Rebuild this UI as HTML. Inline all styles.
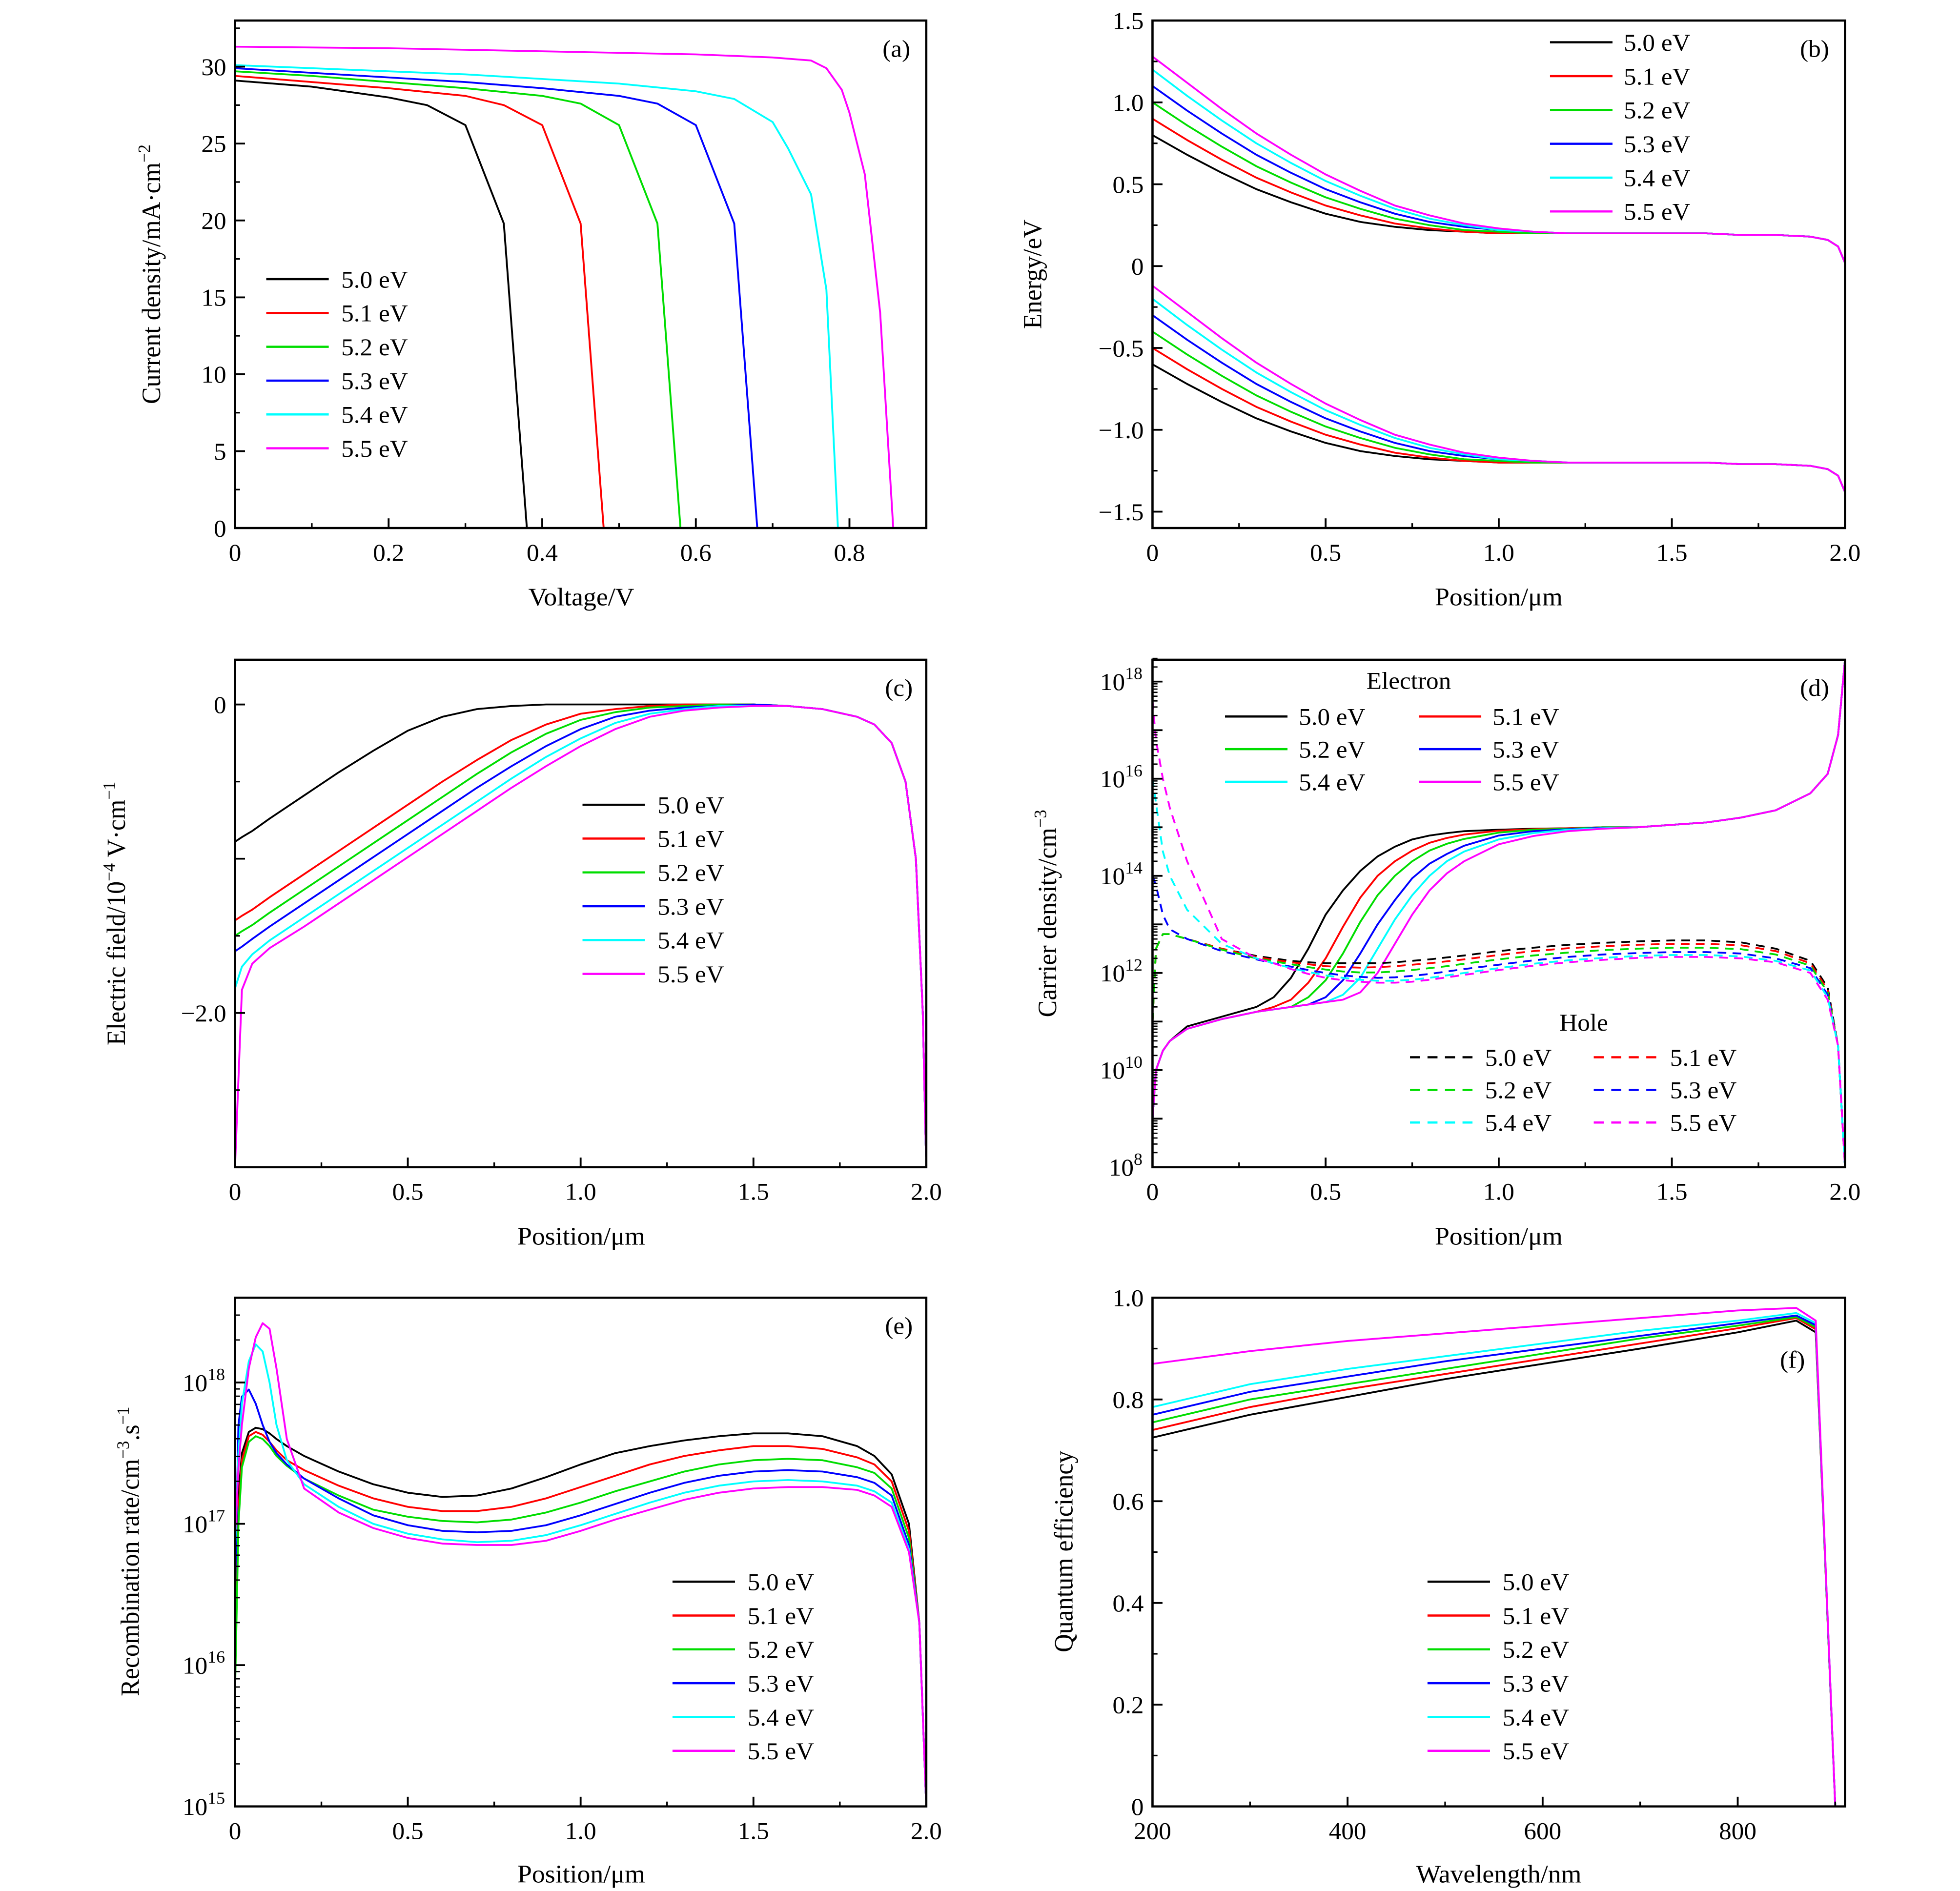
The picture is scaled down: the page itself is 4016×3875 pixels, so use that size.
<!DOCTYPE html>
<html><head><meta charset="utf-8"><style>
html,body{margin:0;padding:0;background:#fff;}
svg{display:block;}
text{font-family:"Liberation Serif",serif;fill:#000;}
</style></head>
<body>
<svg id="fig" xmlns="http://www.w3.org/2000/svg" width="4016" height="3875" viewBox="0 0 1568 1565" preserveAspectRatio="none"></svg>
<script>
// ---------- shared ----------
const colors = ['#000000','#ff0000','#00dd00','#0000ff','#00ffff','#ff00ff'];
const seriesLabels = ['5.0 eV','5.1 eV','5.2 eV','5.3 eV','5.4 eV','5.5 eV'];

// ---------- (a) J-V ----------
const aV0 = [0,0.1,0.2,0.25,0.3,0.35,0.38];
const aJ0 = [29.1,28.7,28.0,27.5,26.2,19.8,0];
const aV1 = [0,0.1,0.2,0.3,0.35,0.4,0.45,0.48];
const aJ1 = [29.4,29.0,28.6,28.1,27.5,26.2,19.8,0];
const aV2 = [0,0.1,0.2,0.3,0.4,0.45,0.5,0.55,0.58];
const aJ2 = [29.7,29.4,29.0,28.6,28.1,27.6,26.2,19.8,0];
const aV3 = [0,0.1,0.2,0.3,0.4,0.5,0.55,0.6,0.65,0.68];
const aJ3 = [29.9,29.6,29.3,29.0,28.6,28.1,27.6,26.2,19.8,0];
const aV4 = [0,0.1,0.2,0.3,0.4,0.5,0.6,0.65,0.7,0.72,0.75,0.77,0.785];
const aJ4 = [30.1,29.9,29.7,29.5,29.2,28.9,28.4,27.9,26.4,24.7,21.7,15.5,0];
const aV5 = [0,0.2,0.4,0.6,0.7,0.75,0.77,0.79,0.8,0.82,0.84,0.857];
const aJ5 = [31.3,31.2,31.0,30.8,30.6,30.4,29.9,28.5,27.0,23.0,14.0,0];

// ---------- (b) band diagram ----------
const bX = [0,0.1,0.2,0.3,0.4,0.5,0.6,0.7,0.8,0.9,1.0,1.1,1.2,1.3,1.4,1.5,1.6,1.7,1.8,1.9,1.95,1.98,2.0];
const bEc0 = [0.80,0.68,0.57,0.47,0.39,0.32,0.27,0.24,0.22,0.21,0.20,0.20,0.20,0.20,0.20,0.20,0.20,0.19,0.19,0.18,0.16,0.12,0.02];
const bEc1 = [0.90,0.77,0.65,0.54,0.45,0.37,0.31,0.26,0.23,0.21,0.20,0.20,0.20,0.20,0.20,0.20,0.20,0.19,0.19,0.18,0.16,0.12,0.02];
const bEc2 = [1.00,0.86,0.73,0.61,0.51,0.42,0.35,0.29,0.25,0.22,0.21,0.20,0.20,0.20,0.20,0.20,0.20,0.19,0.19,0.18,0.16,0.12,0.02];
const bEc3 = [1.10,0.95,0.81,0.68,0.57,0.47,0.39,0.32,0.27,0.24,0.22,0.21,0.20,0.20,0.20,0.20,0.20,0.19,0.19,0.18,0.16,0.12,0.02];
const bEc4 = [1.20,1.04,0.89,0.75,0.63,0.52,0.43,0.35,0.29,0.25,0.22,0.21,0.20,0.20,0.20,0.20,0.20,0.19,0.19,0.18,0.16,0.12,0.02];
const bEc5 = [1.28,1.12,0.96,0.81,0.68,0.56,0.46,0.37,0.31,0.26,0.23,0.21,0.20,0.20,0.20,0.20,0.20,0.19,0.19,0.18,0.16,0.12,0.02];
const bEv0 = [-0.60,-0.72,-0.83,-0.93,-1.01,-1.08,-1.13,-1.16,-1.18,-1.19,-1.20,-1.20,-1.20,-1.20,-1.20,-1.20,-1.20,-1.21,-1.21,-1.22,-1.24,-1.28,-1.38];
const bEv1 = [-0.50,-0.63,-0.75,-0.86,-0.95,-1.03,-1.09,-1.14,-1.17,-1.19,-1.20,-1.20,-1.20,-1.20,-1.20,-1.20,-1.20,-1.21,-1.21,-1.22,-1.24,-1.28,-1.38];
const bEv2 = [-0.40,-0.54,-0.67,-0.79,-0.89,-0.98,-1.05,-1.11,-1.15,-1.18,-1.19,-1.20,-1.20,-1.20,-1.20,-1.20,-1.20,-1.21,-1.21,-1.22,-1.24,-1.28,-1.38];
const bEv3 = [-0.30,-0.45,-0.59,-0.72,-0.83,-0.93,-1.01,-1.08,-1.13,-1.16,-1.18,-1.19,-1.20,-1.20,-1.20,-1.20,-1.20,-1.21,-1.21,-1.22,-1.24,-1.28,-1.38];
const bEv4 = [-0.20,-0.36,-0.51,-0.65,-0.77,-0.88,-0.97,-1.05,-1.11,-1.15,-1.18,-1.19,-1.20,-1.20,-1.20,-1.20,-1.20,-1.21,-1.21,-1.22,-1.24,-1.28,-1.38];
const bEv5 = [-0.12,-0.28,-0.44,-0.59,-0.72,-0.84,-0.94,-1.03,-1.09,-1.14,-1.17,-1.19,-1.20,-1.20,-1.20,-1.20,-1.20,-1.21,-1.21,-1.22,-1.24,-1.28,-1.38];

// ---------- (c) electric field ----------
const cX = [0,0.02,0.05,0.1,0.2,0.3,0.4,0.5,0.6,0.7,0.8,0.9,1.0,1.1,1.2,1.3,1.4,1.5,1.6,1.7,1.8,1.85,1.9,1.94,1.97,1.99,2.0];
const cE0 = [-0.89,-0.86,-0.82,-0.74,-0.59,-0.44,-0.30,-0.17,-0.08,-0.03,-0.01,0,0,0,0,0,0,0,-0.01,-0.03,-0.08,-0.13,-0.25,-0.5,-1.0,-2.0,-3.0];
const cE1 = [-1.40,-1.37,-1.33,-1.25,-1.10,-0.95,-0.80,-0.65,-0.50,-0.36,-0.23,-0.13,-0.06,-0.03,-0.01,0,0,0,-0.01,-0.03,-0.08,-0.13,-0.25,-0.5,-1.0,-2.0,-3.0];
const cE2 = [-1.50,-1.47,-1.43,-1.35,-1.20,-1.05,-0.90,-0.75,-0.60,-0.45,-0.31,-0.19,-0.10,-0.05,-0.02,-0.01,0,0,-0.01,-0.03,-0.08,-0.13,-0.25,-0.5,-1.0,-2.0,-3.0];
const cE3 = [-1.60,-1.57,-1.52,-1.44,-1.29,-1.14,-0.99,-0.84,-0.69,-0.54,-0.40,-0.27,-0.16,-0.08,-0.04,-0.02,-0.01,0,-0.01,-0.03,-0.08,-0.13,-0.25,-0.5,-1.0,-2.0,-3.0];
const cE4 = [-1.84,-1.70,-1.62,-1.53,-1.38,-1.23,-1.08,-0.93,-0.78,-0.63,-0.48,-0.34,-0.22,-0.12,-0.06,-0.03,-0.01,-0.01,-0.01,-0.03,-0.08,-0.13,-0.25,-0.5,-1.0,-2.0,-3.0];
const cE5 = [-3.0,-1.85,-1.68,-1.58,-1.44,-1.29,-1.14,-0.99,-0.84,-0.69,-0.54,-0.40,-0.27,-0.16,-0.08,-0.04,-0.02,-0.01,-0.01,-0.03,-0.08,-0.13,-0.25,-0.5,-1.0,-2.0,-3.0];

// ---------- (d) carrier density (log10) ----------
const dX = [0,0.01,0.03,0.05,0.1,0.2,0.3,0.35,0.4,0.45,0.5,0.55,0.6,0.65,0.7,0.75,0.8,0.85,0.9,1.0,1.1,1.2,1.3,1.4,1.5,1.6,1.7,1.8,1.9,1.95,1.98,2.0];
const dN0 = [9.0,10.0,10.4,10.6,10.9,11.1,11.3,11.5,11.9,12.5,13.2,13.7,14.1,14.4,14.6,14.75,14.83,14.88,14.92,14.95,14.97,14.98,15.0,15.0,15.05,15.1,15.2,15.35,15.7,16.1,16.9,18.45];
const dN1 = [9.0,10.0,10.4,10.6,10.85,11.05,11.2,11.3,11.45,11.8,12.3,12.95,13.55,14.0,14.3,14.52,14.68,14.78,14.85,14.93,14.96,14.98,15.0,15.0,15.05,15.1,15.2,15.35,15.7,16.1,16.9,18.45];
const dN2 = [9.0,10.0,10.4,10.6,10.85,11.05,11.2,11.25,11.3,11.5,11.85,12.4,13.05,13.6,14.0,14.3,14.52,14.66,14.76,14.89,14.95,14.97,15.0,15.0,15.05,15.1,15.2,15.35,15.7,16.1,16.9,18.45];
const dN3 = [9.0,10.0,10.4,10.6,10.85,11.05,11.2,11.25,11.3,11.35,11.5,11.85,12.4,13.0,13.5,13.95,14.25,14.45,14.62,14.83,14.92,14.96,14.99,15.0,15.05,15.1,15.2,15.35,15.7,16.1,16.9,18.45];
const dN4 = [9.0,10.0,10.4,10.6,10.85,11.05,11.2,11.25,11.3,11.35,11.4,11.55,11.9,12.5,13.1,13.6,14.0,14.3,14.5,14.75,14.88,14.95,14.98,15.0,15.05,15.1,15.2,15.35,15.7,16.1,16.9,18.45];
const dN5 = [9.0,10.0,10.4,10.6,10.85,11.05,11.2,11.25,11.3,11.35,11.4,11.45,11.6,12.0,12.6,13.2,13.7,14.05,14.3,14.65,14.82,14.92,14.97,15.0,15.05,15.1,15.2,15.35,15.7,16.1,16.9,18.45];
const dP0 = [11.0,12.5,12.8,12.8,12.7,12.5,12.35,12.3,12.25,12.22,12.2,12.2,12.2,12.2,12.22,12.25,12.28,12.32,12.36,12.45,12.52,12.58,12.62,12.65,12.67,12.67,12.63,12.5,12.25,11.7,10.5,8.0];
const dP1 = [11.0,12.5,12.8,12.8,12.7,12.5,12.33,12.27,12.22,12.18,12.14,12.12,12.11,12.12,12.14,12.17,12.2,12.24,12.28,12.37,12.45,12.51,12.55,12.58,12.6,12.6,12.57,12.45,12.2,11.65,10.5,8.0];
const dP2 = [11.0,12.5,12.8,12.8,12.7,12.48,12.3,12.24,12.18,12.12,12.07,12.03,12.01,12.01,12.03,12.06,12.1,12.14,12.19,12.28,12.36,12.42,12.47,12.5,12.52,12.52,12.49,12.38,12.15,11.6,10.5,8.0];
const dP3 = [14.0,13.8,13.2,12.9,12.7,12.45,12.28,12.2,12.13,12.06,12.0,11.95,11.92,11.9,11.91,11.94,11.98,12.03,12.08,12.17,12.26,12.33,12.38,12.41,12.43,12.43,12.4,12.3,12.1,11.55,10.5,8.0];
const dP4 = [16.0,15.5,14.5,14.0,13.3,12.6,12.3,12.2,12.1,12.02,11.95,11.9,11.86,11.84,11.84,11.86,11.9,11.95,12.0,12.1,12.19,12.26,12.31,12.35,12.37,12.37,12.34,12.25,12.05,11.5,10.5,8.0];
const dP5 = [17.6,16.8,16.0,15.4,14.3,12.7,12.3,12.2,12.08,11.98,11.9,11.85,11.82,11.8,11.8,11.82,11.86,11.91,11.96,12.06,12.15,12.22,12.27,12.31,12.33,12.33,12.3,12.22,12.0,11.45,10.5,8.0];

// ---------- (e) recombination rate (log10) ----------
const eX = [0,0.01,0.02,0.04,0.06,0.08,0.1,0.12,0.15,0.2,0.3,0.4,0.5,0.6,0.7,0.8,0.9,1.0,1.1,1.2,1.3,1.4,1.5,1.6,1.7,1.8,1.85,1.9,1.95,1.98,2.0];
const eR0 = [16.3,17.2,17.5,17.65,17.68,17.67,17.64,17.60,17.55,17.48,17.37,17.28,17.22,17.19,17.20,17.25,17.33,17.42,17.5,17.55,17.59,17.62,17.64,17.64,17.62,17.55,17.48,17.35,17.0,16.3,15.0];
const eR1 = [16.0,17.1,17.45,17.62,17.65,17.63,17.58,17.52,17.45,17.38,17.27,17.18,17.12,17.09,17.09,17.12,17.18,17.26,17.34,17.42,17.48,17.52,17.55,17.55,17.53,17.47,17.42,17.3,16.95,16.3,15.0];
const eR2 = [15.8,17.0,17.4,17.58,17.62,17.60,17.55,17.48,17.41,17.32,17.2,17.1,17.05,17.02,17.01,17.03,17.08,17.15,17.23,17.3,17.37,17.42,17.45,17.46,17.45,17.4,17.36,17.25,16.9,16.3,15.0];
const eR3 = [16.5,17.7,17.9,17.95,17.85,17.7,17.58,17.5,17.42,17.32,17.18,17.06,16.99,16.95,16.94,16.95,16.99,17.06,17.14,17.22,17.29,17.34,17.37,17.38,17.37,17.33,17.29,17.2,16.85,16.3,15.0];
const eR4 = [16.8,17.5,17.85,18.15,18.27,18.22,18.0,17.7,17.45,17.28,17.12,17.0,16.93,16.89,16.87,16.88,16.92,16.99,17.07,17.15,17.22,17.27,17.3,17.31,17.3,17.27,17.23,17.15,16.82,16.3,15.0];
const eR5 = [16.9,17.4,17.7,18.1,18.32,18.42,18.38,18.1,17.6,17.25,17.08,16.97,16.9,16.86,16.85,16.85,16.88,16.95,17.03,17.1,17.17,17.22,17.25,17.26,17.26,17.24,17.2,17.12,16.8,16.3,15.0];

// ---------- (f) quantum efficiency ----------
const fW = [200,300,400,500,600,700,800,860,880,900];
const fQ0 = [0.725,0.77,0.805,0.84,0.87,0.90,0.932,0.955,0.932,0];
const fQ1 = [0.74,0.785,0.82,0.85,0.88,0.91,0.94,0.96,0.938,0];
const fQ2 = [0.755,0.80,0.83,0.86,0.89,0.92,0.945,0.962,0.942,0];
const fQ3 = [0.77,0.815,0.845,0.875,0.90,0.925,0.95,0.965,0.946,0];
const fQ4 = [0.785,0.83,0.86,0.885,0.91,0.935,0.955,0.97,0.95,0];
const fQ5 = [0.87,0.895,0.915,0.93,0.945,0.96,0.975,0.98,0.955,0];

// ---------- drawing ----------
const NS = 'http://www.w3.org/2000/svg';
const svg = document.getElementById('fig');
function mk(tag, parent, attrs){
  const e = document.createElementNS(NS, tag);
  for (const k in attrs) e.setAttribute(k, attrs[k]);
  parent.appendChild(e);
  return e;
}
function makePanel(name, L, T, R, B, x0, x1, y0, y1){
  const g = mk('g', svg, {});
  
  
  const p = {g, L, T, R, B,
    sx: v => L + (v - x0) / (x1 - x0) * (R - L),
    sy: v => B - (v - y0) / (y1 - y0) * (B - T)};
  const clip = mk('clipPath', g, {id: name + '-clip'});
  mk('rect', clip, {x: L, y: T, width: R - L, height: B - T});
  p.plot = mk('g', g, {'clip-path': 'url(#' + name + '-clip)'});
  
  
  return p;
}
function frame(p){
  const r = mk('rect', p.g, {x: p.L, y: p.T, width: p.R - p.L, height: p.B - p.T, fill: 'none', stroke: '#000', 'stroke-width': 1.8});
  
  
}
function line(p, xs, ys, color, dash, nm){
  let d = '';
  for (let i = 0; i < xs.length; i++) d += (i ? 'L' : 'M') + p.sx(xs[i]).toFixed(2) + ',' + p.sy(ys[i]).toFixed(2);
  const path = mk('path', p.plot, {d, fill: 'none', stroke: color, 'stroke-width': 1.5, 'stroke-linejoin': 'round'});
  if (dash) path.setAttribute('stroke-dasharray', '7,5');
  
  
}
function xTicks(p, vals, labels, minor){
  for (const v of minor){ mk('line', p.g, {x1: p.sx(v), x2: p.sx(v), y1: p.B, y2: p.B - 4, stroke: '#000', 'stroke-width': 1.3}); }
  vals.forEach((v, i) => {
    mk('line', p.g, {x1: p.sx(v), x2: p.sx(v), y1: p.B, y2: p.B - 8, stroke: '#000', 'stroke-width': 1.5});
    const t = mk('text', p.g, {x: p.sx(v), y: p.B + 27, 'font-size': 20, 'text-anchor': 'middle'});
    t.textContent = labels[i];
    
    
  });
}
function yTicks(p, vals, labels, minor){
  for (const v of minor){ mk('line', p.g, {x1: p.L, x2: p.L + 4, y1: p.sy(v), y2: p.sy(v), stroke: '#000', 'stroke-width': 1.3}); }
  vals.forEach((v, i) => {
    mk('line', p.g, {x1: p.L, x2: p.L + 8, y1: p.sy(v), y2: p.sy(v), stroke: '#000', 'stroke-width': 1.5});
    if (labels[i] === '') return;
    const t = mk('text', p.g, {x: p.L - 7, y: p.sy(v) + 7, 'font-size': 20, 'text-anchor': 'end'});
    t.textContent = labels[i];
    
    
  });
}
function yLogTicks(p, lo, hi, labelEvery){
  for (let dcd = lo; dcd <= hi; dcd++){
    for (let m = 2; m <= 9; m++){ const v = dcd + Math.log10(m); if (v <= hi + 0.6) mk('line', p.g, {x1: p.L, x2: p.L + 4, y1: p.sy(v), y2: p.sy(v), stroke: '#000', 'stroke-width': 1.1}); }
    mk('line', p.g, {x1: p.L, x2: p.L + 8, y1: p.sy(dcd), y2: p.sy(dcd), stroke: '#000', 'stroke-width': 1.5});
    if ((dcd - lo) % labelEvery === 0){
      const t = mk('text', p.g, {x: p.L - 8, y: p.sy(dcd) + 7, 'font-size': 20, 'text-anchor': 'end'});
      
      
      const a = mk('tspan', t, {}); a.textContent = '10';
      const b = mk('tspan', t, {dy: -9, 'font-size': 14}); b.textContent = String(dcd);
    }
  }
}
function txt(parent, x, y, s, size, nm, anchor, rot){
  const t = mk('text', parent, {x, y, 'font-size': size, 'text-anchor': anchor || 'start'});
  if (rot) t.setAttribute('transform', 'rotate(-90 ' + x + ' ' + y + ')');
  t.textContent = s;
  
  
  return t;
}
function legendEntry(p, x1, x2, tx, y, color, dash, label){
  const g = mk('g', p.g, {});
  
  
  const l = mk('line', g, {x1, x2, y1: y, y2: y, stroke: color, 'stroke-width': 1.8});
  if (dash) l.setAttribute('stroke-dasharray', '8,6');
  txt(g, tx, y + 7, label, 20, 'legend-label');
}
function legendCol(p, x1, x2, tx, y0, dy){
  seriesLabels.forEach((s, i) => legendEntry(p, x1, x2, tx, y0 + i * dy, colors[i], false, s));
}
function range(a, b, s){ const r = []; for (let v = a; v <= b + 1e-9; v += s) r.push(+v.toFixed(4)); return r; }

// Panel (a)
const pa = makePanel('panel-a-jv', 188, 17, 741, 437, 0, 0.9, 0, 33);
[[aV0,aJ0],[aV1,aJ1],[aV2,aJ2],[aV3,aJ3],[aV4,aJ4],[aV5,aJ5]].forEach((s, i) => line(pa, s[0], s[1], colors[i], false, 'jv-curve-' + i));
frame(pa);
xTicks(pa, [0,0.2,0.4,0.6,0.8], ['0','0.2','0.4','0.6','0.8'], range(0.1, 0.9, 0.2));
yTicks(pa, [0,5,10,15,20,25,30], ['0','5','10','15','20','25','30'], range(2.5, 32.5, 5));
txt(pa.g, 706, 47, '(a)', 20, 'panel-label');
txt(pa.g, 465, 501, 'Voltage/V', 21, 'x-axis-title', 'middle');
const ya = txt(pa.g, 128, 227, 'Current density/mA·cm', 21, 'y-axis-title', 'middle', true);
const yas = mk('tspan', ya, {dy: -8, 'font-size': 14}); yas.textContent = '−2';
legendCol(pa, 213, 263, 273, 231, 28);

// Panel (b)
const pb = makePanel('panel-b-band', 922, 17, 1476, 437, 0, 2, -1.6, 1.5);
[bEc0,bEc1,bEc2,bEc3,bEc4,bEc5].forEach((s, i) => line(pb, bX, s, colors[i], false, 'conduction-band-' + i));
[bEv0,bEv1,bEv2,bEv3,bEv4,bEv5].forEach((s, i) => line(pb, bX, s, colors[i], false, 'valence-band-' + i));
frame(pb);
xTicks(pb, [0,0.5,1,1.5,2], ['0','0.5','1.0','1.5','2.0'], range(0.25, 1.75, 0.5));
yTicks(pb, [-1.5,-1,-0.5,0,0.5,1,1.5], ['−1.5','−1.0','−0.5','0','0.5','1.0','1.5'], range(-1.25, 1.25, 0.5));
txt(pb.g, 1440, 47, '(b)', 20, 'panel-label');
txt(pb.g, 1199, 501, 'Position/μm', 21, 'x-axis-title', 'middle');
txt(pb.g, 833, 227, 'Energy/eV', 21, 'y-axis-title', 'middle', true);
legendCol(pb, 1240, 1290, 1299, 35, 28);

// Panel (c)
const pc = makePanel('panel-c-field', 188, 546, 741, 966, 0, 2, -3.0, 0.29);
[cE0,cE1,cE2,cE3,cE4,cE5].forEach((s, i) => line(pc, cX, s, colors[i], false, 'field-curve-' + i));
frame(pc);
xTicks(pc, [0,0.5,1,1.5,2], ['0','0.5','1.0','1.5','2.0'], range(0.25, 1.75, 0.5));
yTicks(pc, [-3,-2,-1,0], ['','−2.0','','0'], [-2.5,-1.5,-0.5]);
txt(pc.g, 708, 576, '(c)', 20, 'panel-label');
txt(pc.g, 465, 1030, 'Position/μm', 21, 'x-axis-title', 'middle');
const yc = txt(pc.g, 100, 756, 'Electric field/10', 21, 'y-axis-title', 'middle', true);
const yc1 = mk('tspan', yc, {dy: -8, 'font-size': 14}); yc1.textContent = '−4';
const yc2 = mk('tspan', yc, {dy: 8}); yc2.textContent = ' V·cm';
const yc3 = mk('tspan', yc, {dy: -8, 'font-size': 14}); yc3.textContent = '−1';
legendCol(pc, 466, 516, 526, 666, 28);

// Panel (d)
const pd = makePanel('panel-d-carrier', 922, 546, 1476, 966, 0, 2, 8, 18.45);
[dN0,dN1,dN2,dN3,dN4,dN5].forEach((s, i) => line(pd, dX, s, colors[i], false, 'electron-density-' + i));
[dP0,dP1,dP2,dP3,dP4,dP5].forEach((s, i) => line(pd, dX, s, colors[i], true, 'hole-density-' + i));
frame(pd);
xTicks(pd, [0,0.5,1,1.5,2], ['0','0.5','1.0','1.5','2.0'], range(0.25, 1.75, 0.5));
yLogTicks(pd, 8, 18, 2);
txt(pd.g, 1440, 576, '(d)', 20, 'panel-label');
txt(pd.g, 1199, 1030, 'Position/μm', 21, 'x-axis-title', 'middle');
const yd = txt(pd.g, 845, 756, 'Carrier density/cm', 21, 'y-axis-title', 'middle', true);
const yd1 = mk('tspan', yd, {dy: -8, 'font-size': 14}); yd1.textContent = '−3';
txt(pd.g, 1127, 570, 'Electron', 20, 'legend-title', 'middle');
txt(pd.g, 1267, 853, 'Hole', 20, 'legend-title', 'middle');
seriesLabels.forEach((s, i) => {
  const col = i % 2, row = Math.floor(i / 2);
  legendEntry(pd, col ? 1135 : 980, col ? 1185 : 1030, col ? 1194 : 1039, 593 + row * 27, colors[i], false, s);
  legendEntry(pd, col ? 1275 : 1128, col ? 1325 : 1178, col ? 1336 : 1188, 875 + row * 27, colors[i], true, s);
});

// Panel (e)
const pe = makePanel('panel-e-recomb', 188, 1074, 741, 1495, 0, 2, 15, 18.6);
[eR0,eR1,eR2,eR3,eR4,eR5].forEach((s, i) => line(pe, eX, s, colors[i], false, 'recombination-curve-' + i));
frame(pe);
xTicks(pe, [0,0.5,1,1.5,2], ['0','0.5','1.0','1.5','2.0'], range(0.25, 1.75, 0.5));
yLogTicks(pe, 15, 18, 1);
txt(pe.g, 708, 1104, '(e)', 20, 'panel-label');
txt(pe.g, 465, 1558, 'Position/μm', 21, 'x-axis-title', 'middle');
const ye = txt(pe.g, 111, 1284, 'Recombination rate/cm', 21, 'y-axis-title', 'middle', true);
const ye1 = mk('tspan', ye, {dy: -8, 'font-size': 14}); ye1.textContent = '−3';
const ye2 = mk('tspan', ye, {dy: 8}); ye2.textContent = '.s';
const ye3 = mk('tspan', ye, {dy: -8, 'font-size': 14}); ye3.textContent = '−1';
legendCol(pe, 538, 588, 598, 1309, 28);

// Panel (f)
const pf = makePanel('panel-f-qe', 922, 1074, 1476, 1495, 200, 910, 0, 1.0);
[fQ0,fQ1,fQ2,fQ3,fQ4,fQ5].forEach((s, i) => line(pf, fW, s, colors[i], false, 'qe-curve-' + i));
frame(pf);
xTicks(pf, [200,400,600,800], ['200','400','600','800'], [300,500,700,900]);
yTicks(pf, [0,0.2,0.4,0.6,0.8,1.0], ['0','0.2','0.4','0.6','0.8','1.0'], [0.1,0.3,0.5,0.7,0.9]);
txt(pf.g, 1424, 1132, '(f)', 20, 'panel-label');
txt(pf.g, 1199, 1558, 'Wavelength/nm', 21, 'x-axis-title', 'middle');
txt(pf.g, 858, 1284, 'Quantum efficiency', 21, 'y-axis-title', 'middle', true);
legendCol(pf, 1142, 1192, 1202, 1309, 28);
</script>
</body></html>
